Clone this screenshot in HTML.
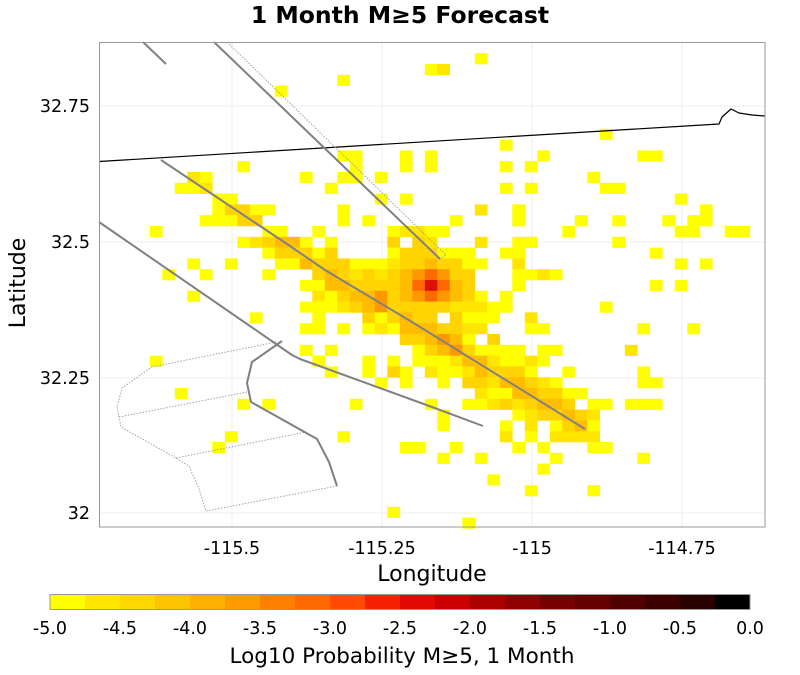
<!DOCTYPE html>
<html><head><meta charset="utf-8"><style>
body{margin:0;background:#fff;}
svg{display:block;font-family:"DejaVu Sans","Liberation Sans",sans-serif;}
</style></head><body>
<svg id="s" width="800" height="675" viewBox="0 0 800 675" xmlns="http://www.w3.org/2000/svg">
<rect width="800" height="675" fill="#fff"/>
<g stroke="#ececec" stroke-width="1">
<line x1="232" y1="42" x2="232" y2="527"/><line x1="382" y1="42" x2="382" y2="527"/>
<line x1="532" y1="42" x2="532" y2="527"/><line x1="682" y1="42" x2="682" y2="527"/>
<line x1="99" y1="106" x2="765" y2="106"/><line x1="99" y1="242" x2="765" y2="242"/>
<line x1="99" y1="378" x2="765" y2="378"/><line x1="99" y1="513" x2="765" y2="513"/>
</g>
<g id="cells"></g>
<g fill="none" stroke-linejoin="round">
<polyline stroke="#000" stroke-width="1.2" points="99,161.5 719,124 722,117 731,109 739,113 752,115 765,116"/>
<g stroke="#999" stroke-width="0.9" stroke-dasharray="1.5,1.5">
<polyline points="227,42 446,255 440,259"/>
<polyline points="276,342 152,367 122,388 117,407 121,427 176,458 189,466 199,489 206,511 337,486"/>
<polyline points="119,417 247,392"/>
<polyline points="176,458 306,432"/>
</g>
<g stroke="#808080" stroke-width="2">
<polyline points="143,42 166,64"/>
<polyline points="214,42 440,259"/>
<polyline points="161,160 287,244 325,270 345,282 412,322 585,429"/>
<polyline points="99,222 292,355 300,359 432,407 483,426"/>
<polyline points="282,341 252,362 247,383 251,402 317,439 329,462 337,486"/>
</g>
</g>
<rect x="99.5" y="42.5" width="665.5" height="484.5" fill="none" stroke="#999" stroke-width="1"/>
<text x="400" y="23" text-anchor="middle" font-size="23.5" font-weight="bold">1 Month M≥5 Forecast</text>
<g font-size="17.5" text-anchor="end">
<text x="90" y="112">32.75</text><text x="90" y="248">32.5</text>
<text x="90" y="384">32.25</text><text x="90" y="519">32</text>
</g>
<g font-size="17.5" text-anchor="middle">
<text x="232" y="554">-115.5</text><text x="382" y="554">-115.25</text>
<text x="532" y="554">-115</text><text x="682" y="554">-114.75</text>
</g>
<text x="432" y="581" text-anchor="middle" font-size="22">Longitude</text>
<text transform="translate(25,283) rotate(-90)" text-anchor="middle" font-size="22">Latitude</text>
<g id="cbar"></g>
<rect x="50" y="594.5" width="700" height="15" fill="none" stroke="#999" stroke-width="1"/>
<g font-size="17.5" text-anchor="middle" id="cbl"></g>
<text x="402" y="663" text-anchor="middle" font-size="21.5">Log10 Probability M≥5, 1 Month</text>
</svg>
<script>
var C={Y:"#ffff00",y:"#ffe600",g:"#ffd400",o:"#ffbc00",O:"#ff9800",r:"#ff6a00",R:"#dd1100"};
var D={
1:"30Y",2:"26Y 27y",3:"19Y",4:"14Y",8:"40Y",9:"32Y",
10:"19Y 20Y 24Y 26Y 35Y 43Y 44Y",
11:"11Y 20Y 24Y 26Y 32Y 34Y",
12:"7y 8Y 16Y 19Y 20Y 22Y 39Y",
13:"6Y 7Y 8y 18Y 32Y 34Y 40Y 41Y",
14:"9Y 10Y 22Y 24Y 46Y",
15:"9Y 10g 11g 12Y 13Y 19Y 30y 33Y 48Y",
16:"8Y 9Y 10Y 11g 12g 19Y 21Y 28Y 33Y 38Y 41Y 45Y 47Y 48Y",
17:"4Y 13Y 14Y 17Y 23Y 24y 25y 26Y 27Y 37Y 46Y 47Y 50Y 51Y",
18:"11Y 12y 13g 14o 15o 16Y 18Y 23g 25g 26y 30y 33Y 34Y 41Y",
19:"13Y 14g 15g 16g 17Y 18g 23Y 24g 25g 26g 27Y 28Y 29Y 32Y 33Y 44Y",
20:"7Y 10Y 14Y 15Y 16o 17g 18g 19g 20Y 21Y 22Y 23y 24g 25g 26o 27g 28g 29Y 30Y 33y 46Y 48Y",
21:"5Y 8Y 13Y 17g 18o 19g 20y 21g 22y 23g 24o 25O 26r 27O 28g 29g 33Y 34Y 35y 36Y",
22:"16Y 17Y 18o 19o 20g 21g 22g 23g 24o 25r 26R 27r 28o 29g 33Y 44Y 46Y",
23:"7Y 17y 18Y 19g 20o 21o 22O 23g 24o 25O 26r 27O 28o 29g 30Y 32Y",
24:"16Y 17Y 18Y 19y 20g 21o 22O 23g 24g 25g 26g 27g 28y 29y 30y 31Y 32Y 40Y",
25:"12Y 17Y 21g 22Y 23g 24o 25g 26g 28g 29Y 30Y 31Y 34y",
26:"16Y 17Y 19Y 21Y 22y 23Y 24o 25o 26o 27g 28g 29y 30y 34Y 35Y 43Y 47Y",
27:"24g 25g 26o 27O 28o 29Y 31g",
28:"16Y 18Y 25Y 26g 27o 28O 29g 30Y 31Y 32Y 33Y 35Y 36Y 42y",
29:"4Y 17Y 21Y 23Y 25Y 26Y 27Y 28y 29o 30o 31y 32Y 33Y 34y 35Y",
30:"18Y 21Y 23g 24Y 26y 27Y 28Y 29y 30o 31g 32g 33g 34Y 37Y 43Y",
31:"22Y 24Y 27Y 29g 30g 31y 32o 33o 34g 35y 36Y 43Y 44Y",
32:"6Y 30y 31Y 32Y 33o 34o 35g 36g 37Y 38Y",
33:"11Y 13Y 20Y 26Y 29Y 30Y 31y 32g 33y 34g 35o 36o 37g 39Y 40Y 42Y 43Y 44Y",
34:"27Y 33Y 34y 35g 36g 37o 38g 39y",
35:"27Y 32Y 34y 36Y 37g 38o 39Y",
36:"10Y 19Y 32y 34Y 36y 37y 38y 39y",
37:"9Y 24Y 25Y 28Y 33Y 35Y 39Y 40Y",
38:"27Y 30Y 36Y 43Y",39:"35Y",40:"31Y",41:"34Y 39Y",43:"23Y",44:"29Y"};
var ns="http://www.w3.org/2000/svg",g=document.getElementById("cells");
for(var r in D){D[r].split(" ").forEach(function(t){var c=parseInt(t),l=t.replace(/[0-9]/g,"");
var e=document.createElementNS(ns,"rect");e.setAttribute("x",(99.8+12.5*c).toFixed(1));
e.setAttribute("y",(42.4+10.8*r).toFixed(1));e.setAttribute("width","12.8");
e.setAttribute("height","11.1");e.setAttribute("fill",C[l]);g.appendChild(e);});}
var cb=["#ffff00","#ffe600","#ffd700","#ffc400","#ffb000","#ff9a00","#ff8000","#ff6a00","#ff4a00","#f52000","#e00a00","#cc0000","#aa0000","#900000","#780000","#640000","#500000","#3c0000","#280000","#000000"];
var b=document.getElementById("cbar");
cb.forEach(function(col,i){var e=document.createElementNS(ns,"rect");e.setAttribute("x",50+35*i);e.setAttribute("y",594.5);
e.setAttribute("width",35.5);e.setAttribute("height",15);e.setAttribute("fill",col);b.appendChild(e);});
var L=document.getElementById("cbl");
for(var i=0;i<=10;i++){var t=document.createElementNS(ns,"text");t.setAttribute("x",50+70*i);t.setAttribute("y",634);
t.textContent=(-5+0.5*i).toFixed(1);L.appendChild(t);}
</script>
</body></html>
